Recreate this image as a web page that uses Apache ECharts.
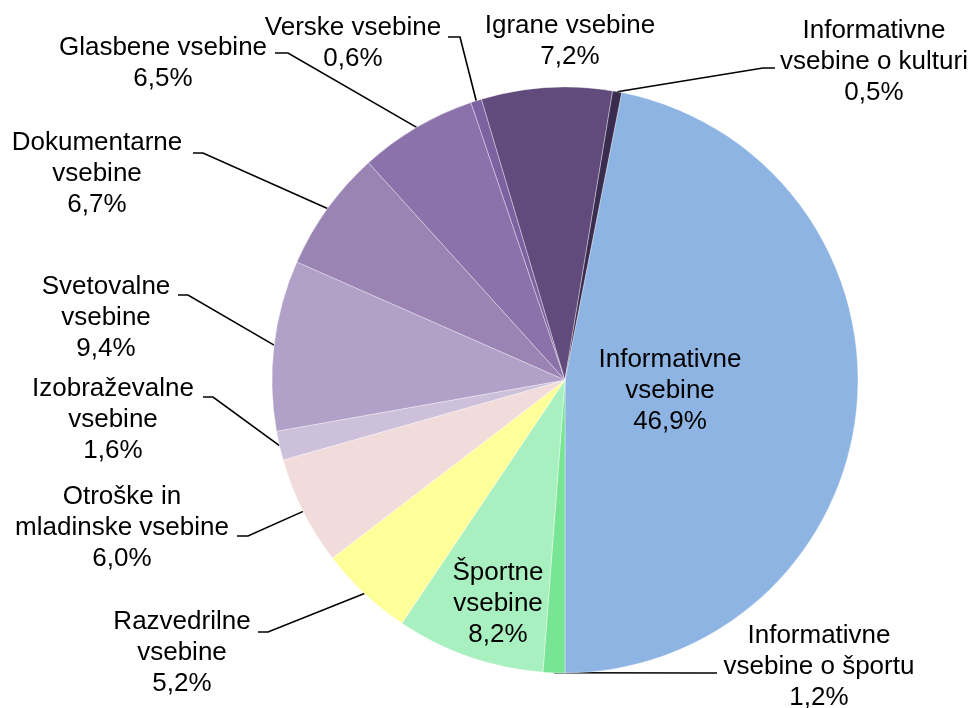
<!DOCTYPE html>
<html lang="sl">
<head>
    <meta charset="UTF-8">
    <script src="https://cdn.jsdelivr.net/npm/echarts@6/dist/echarts.min.js"></script>
    <title>Vsebine</title>
</head>
<body style="margin:0;background:#fff;">
<div id="main" style="width: 975px;height:708px;"></div>
<script type="text/javascript">
    // podatki (delež v %)
    var categories = [
        'Informativne\nvsebine',
        'Informativne\nvsebine o športu',
        'Športne\nvsebine',
        'Razvedrilne\nvsebine',
        'Otroške in\nmladinske vsebine',
        'Izobraževalne\nvsebine',
        'Svetovalne\nvsebine',
        'Dokumentarne\nvsebine',
        'Glasbene vsebine',
        'Verske vsebine',
        'Igrane vsebine',
        'Informativne\nvsebine o kulturi'
    ];
    var values = [46.9, 1.2, 8.2, 5.2, 6.0, 1.6, 9.4, 6.7, 6.5, 0.6, 7.2, 0.5];
    var colors = ['#8EB4E3', '#77E594', '#A9F0C0', '#FFFF99', '#F2DCDB', '#CCC0DA',
        '#B1A0C7', '#9A84B3', '#8B72AA', '#7C62A0', '#614A7C', '#3A2C4F'];

    // položaj nalepk: središče besedila, konec črte pri besedilu, pregib črte
    var labelPos = [
        {c: [670, 391]},
        {c: [819, 667], a: [717, 673], b: [700, 673]},
        {c: [498, 604]},
        {c: [182, 653], a: [258, 632], b: [268, 632]},
        {c: [122, 528], a: [237, 536], b: [248, 536]},
        {c: [113, 420], a: [203, 397], b: [213, 397]},
        {c: [106, 318], a: [178, 295], b: [188, 295]},
        {c: [97, 174], a: [193, 153], b: [203, 153]},
        {c: [163, 63], a: [275, 53], b: [288, 53]},
        {c: [353, 43], a: [448, 37], b: [460, 37]},
        {c: [570, 41]},
        {c: [874, 62], a: [775, 68], b: [763, 68]}
    ];

    var seriesData = [];
    for (var i = 0; i < values.length; i++) {
        seriesData.push({
            value: values[i],
            name: categories[i],
            itemStyle: {color: colors[i]},
            labelLine: {show: !!labelPos[i].a}
        });
    }

    var myChart = echarts.init(document.getElementById('main'));

    var option = {
        animation: false,
        series: [
            {
                type: 'pie',
                center: [565, 380],
                radius: 293,
                startAngle: 78.84,
                clockwise: true,
                avoidLabelOverlap: false,
                itemStyle: {
                    borderColor: 'rgba(255,255,255,0.45)',
                    borderWidth: 0.8
                },
                label: {
                    show: true,
                    position: 'outside',
                    color: '#000',
                    fontFamily: '"Liberation Sans", Arial, sans-serif',
                    fontSize: 26,
                    lineHeight: 31,
                    align: 'center',
                    formatter: function (p) {
                        return p.name + '\n' + p.value.toFixed(1).replace('.', ',') + '%';
                    }
                },
                labelLine: {
                    show: true,
                    length: 10,
                    length2: 10,
                    lineStyle: {color: '#000', width: 1.6}
                },
                labelLayout: function (params) {
                    var lp = labelPos[params.dataIndex];
                    var res = {
                        x: lp.c[0],
                        y: lp.c[1],
                        align: 'center',
                        verticalAlign: 'middle'
                    };
                    if (lp.a && params.labelLinePoints) {
                        res.labelLinePoints = [params.labelLinePoints[0], lp.b, lp.a];
                    }
                    return res;
                },
                emphasis: {disabled: true},
                data: seriesData
            }
        ]
    };

    myChart.setOption(option);
</script>
</body>
</html>
